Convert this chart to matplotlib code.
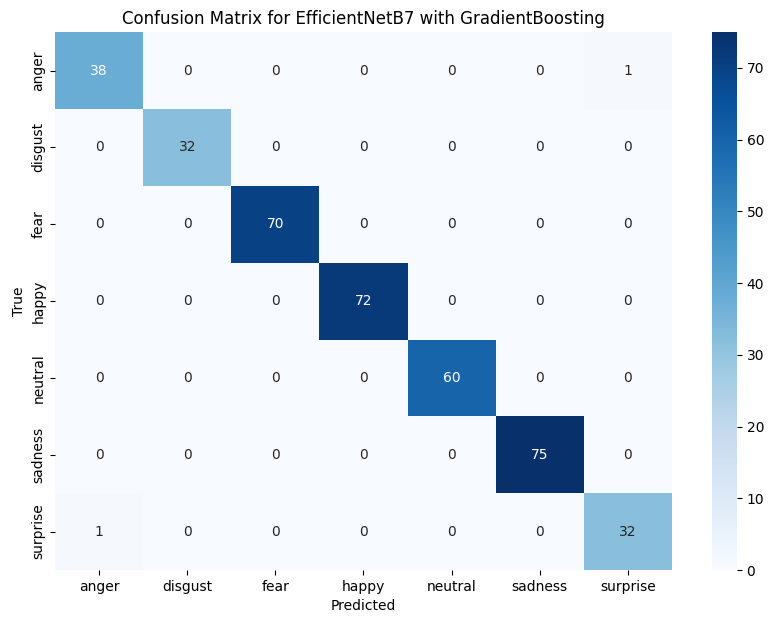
import numpy as np
import matplotlib
matplotlib.use("Agg")
import matplotlib.pyplot as plt
import seaborn as sns

# class labels and confusion matrix values
labels = ["anger", "disgust", "fear", "happy", "neutral", "sadness", "surprise"]
cm = np.array([
    [38, 0, 0, 0, 0, 0, 1],
    [0, 32, 0, 0, 0, 0, 0],
    [0, 0, 70, 0, 0, 0, 0],
    [0, 0, 0, 72, 0, 0, 0],
    [0, 0, 0, 0, 60, 0, 0],
    [0, 0, 0, 0, 0, 75, 0],
    [1, 0, 0, 0, 0, 0, 32],
])

fig = plt.figure(figsize=(7.76, 6.24), dpi=100)
ax = fig.add_axes([0.0709, 0.0865, 0.795, 0.862])
cax = fig.add_axes([0.9175, 0.0865, 0.032, 0.862])

sns.heatmap(cm, annot=True, fmt="d", cmap="Blues",
            xticklabels=labels, yticklabels=labels, ax=ax, cbar_ax=cax)
ax.set_xlabel("Predicted")
ax.set_ylabel("True")
ax.set_title("Confusion Matrix for EfficientNetB7 with GradientBoosting")

fig.savefig("out.png", dpi=100)
